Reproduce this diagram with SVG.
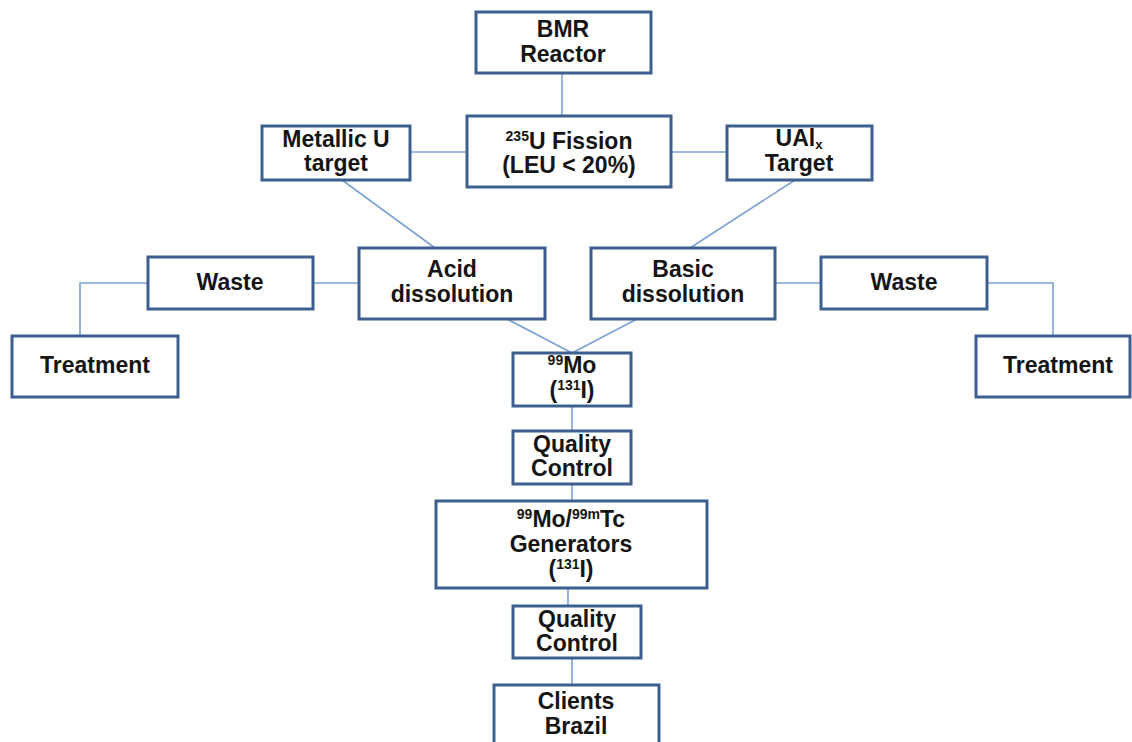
<svg xmlns="http://www.w3.org/2000/svg" width="1132" height="742" viewBox="0 0 1132 742">
<style>
.box{fill:#fff;stroke:#3c5f8f;stroke-width:3}
.t{font-family:"Liberation Sans",Arial,sans-serif;font-weight:bold;font-size:23px;fill:#151515;text-anchor:middle}
.s{font-size:14px}
.c{stroke:#7ba2d3;stroke-width:1.6;fill:none}
</style>
<rect width="1132" height="742" fill="#fff"/>
<g id="connectors">
<line class="c" x1="562" y1="73" x2="562" y2="116"/>
<line class="c" x1="410" y1="152" x2="467" y2="152"/>
<line class="c" x1="671" y1="152" x2="727" y2="152"/>
<line class="c" x1="342" y1="180" x2="435" y2="248"/>
<line class="c" x1="795" y1="180" x2="690" y2="248"/>
<line class="c" x1="313" y1="283" x2="359" y2="283"/>
<polyline class="c" points="148,283 80,283 80,336"/>
<line class="c" x1="775" y1="283" x2="821" y2="283"/>
<polyline class="c" points="987,283 1053,283 1053,336"/>
<line class="c" x1="507" y1="319" x2="572" y2="353"/>
<line class="c" x1="637" y1="319" x2="572" y2="353"/>
<line class="c" x1="572" y1="406" x2="572" y2="431"/>
<line class="c" x1="572" y1="484" x2="572" y2="501"/>
<line class="c" x1="568" y1="588" x2="568" y2="606"/>
<line class="c" x1="572" y1="658" x2="572" y2="685"/>
</g>
<g id="bmr"><rect class="box" x="476" y="12" width="175" height="61"/>
<text class="t" x="563" y="37">BMR</text><text class="t" x="563" y="62">Reactor</text></g>
<g id="fission"><rect class="box" x="467" y="116" width="204" height="71"/>
<text class="t" x="569" y="149"><tspan class="s" dy="-8">235</tspan><tspan dy="8">U Fission</tspan></text>
<text class="t" x="569" y="173">(LEU &lt; 20%)</text></g>
<g id="metallic"><rect class="box" x="262" y="126" width="148" height="54"/>
<text class="t" x="336" y="147">Metallic U</text><text class="t" x="336" y="171">target</text></g>
<g id="ualx"><rect class="box" x="727" y="126" width="145" height="54"/>
<text class="t" x="799" y="146">UAl<tspan style="font-size:13px" dy="3">x</tspan></text><text class="t" x="799" y="171">Target</text></g>
<g id="waste-left"><rect class="box" x="148" y="257" width="165" height="52"/>
<text class="t" x="230" y="290">Waste</text></g>
<g id="acid"><rect class="box" x="359" y="248" width="186" height="71"/>
<text class="t" x="452" y="277">Acid</text><text class="t" x="452" y="302">dissolution</text></g>
<g id="basic"><rect class="box" x="591" y="248" width="184" height="71"/>
<text class="t" x="683" y="277">Basic</text><text class="t" x="683" y="302">dissolution</text></g>
<g id="waste-right"><rect class="box" x="821" y="257" width="166" height="52"/>
<text class="t" x="904" y="290">Waste</text></g>
<g id="treatment-left"><rect class="box" x="12" y="336" width="166" height="61"/>
<text class="t" x="95" y="373">Treatment</text></g>
<g id="treatment-right"><rect class="box" x="976" y="336" width="154" height="61"/>
<text class="t" x="1058" y="373">Treatment</text></g>
<g id="mo99"><rect class="box" x="513" y="353" width="118" height="53"/>
<text class="t" x="572" y="373"><tspan class="s" dy="-8">99</tspan><tspan dy="8">Mo</tspan></text>
<text class="t" x="572" y="398">(<tspan class="s" dy="-8">131</tspan><tspan dy="8">I)</tspan></text></g>
<g id="qc1"><rect class="box" x="513" y="431" width="118" height="53"/>
<text class="t" x="572" y="452">Quality</text><text class="t" x="572" y="476">Control</text></g>
<g id="generators"><rect class="box" x="436" y="501" width="271" height="87"/>
<text class="t" x="571" y="527"><tspan class="s" dy="-8">99</tspan><tspan dy="8">Mo/</tspan><tspan class="s" dy="-8">99m</tspan><tspan dy="8">Tc</tspan></text>
<text class="t" x="571" y="552">Generators</text>
<text class="t" x="571" y="577">(<tspan class="s" dy="-8">131</tspan><tspan dy="8">I)</tspan></text></g>
<g id="qc2"><rect class="box" x="513" y="606" width="128" height="52"/>
<text class="t" x="577" y="627">Quality</text><text class="t" x="577" y="651">Control</text></g>
<g id="clients"><rect class="box" x="494" y="685" width="165" height="70"/>
<text class="t" x="576" y="709">Clients</text><text class="t" x="576" y="734">Brazil</text></g>
</svg>
